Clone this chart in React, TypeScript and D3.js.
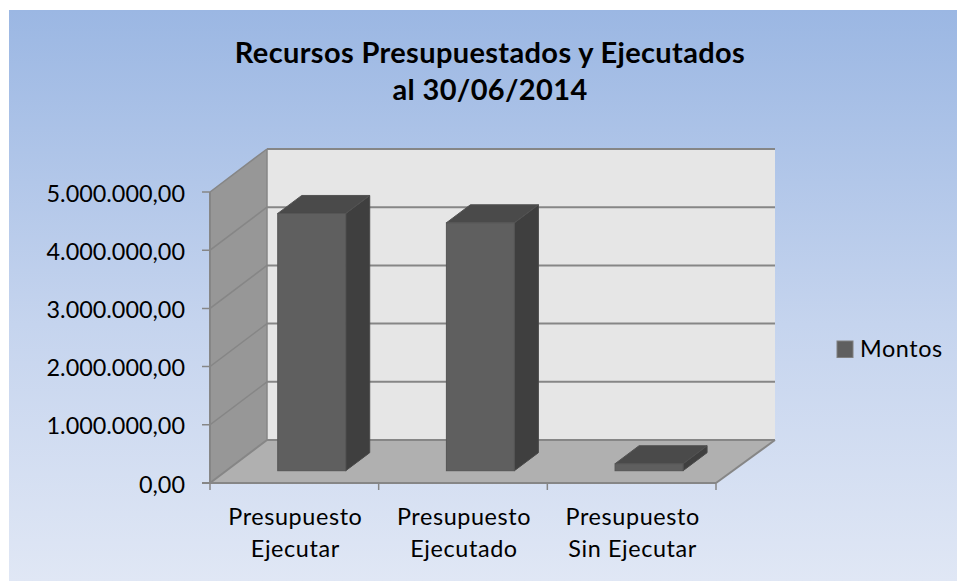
import React from "react";
import * as d3 from "d3";

const categories = ["Presupuesto Ejecutar", "Presupuesto Ejecutado", "Presupuesto Sin Ejecutar"];
const categoryLines = [["Presupuesto", "Ejecutar"], ["Presupuesto", "Ejecutado"], ["Presupuesto", "Sin Ejecutar"]];
const montos = [4420000, 4260000, 120000];
const yTicks = [0, 1000000, 2000000, 3000000, 4000000, 5000000];
const titleLines = ["Recursos Presupuestados y Ejecutados", "al 30/06/2014"];
const legendLabel = "Montos";

const FONT = "Lato, Carlito, Calibri, sans-serif";
const fmt = (v: number) => d3.format(",.2f")(v).replace(/,/g, "#").replace(".", ",").replace(/#/g, ".");

export default function App() {
  const x = d3.scaleBand<string>().domain(categories).range([210, 716]).paddingInner(0).paddingOuter(0);
  const y = d3.scaleLinear().domain([0, 5000000]).range([483, 192]);
  const dx = 57, dy = 43;
  const bdx = 24, bdy = 18;
  const barW = 68;
  const bottomY = 470.7;
  const baseShift = 17.4;
  const line = "#868686";
  const p = (pts: number[][]) => pts.map((q) => q.join(",")).join(" ");
  const y0 = y(0), yTop = y(5000000), xL = 210, xR = 716;
  return (
    <svg width={957} height={581} style={{ position: "fixed", left: 0, top: 0, display: "block", fontFamily: FONT }}>
      <defs>
        <linearGradient id="bg" x1="0" y1="0" x2="0" y2="1">
          <stop offset="0" stopColor="#9bb7e3" />
          <stop offset="0.55" stopColor="#c5d4ee" />
          <stop offset="1" stopColor="#e0e7f5" />
        </linearGradient>
      </defs>
      <rect x={9} y={10} width={948} height={571} fill="url(#bg)" />
      <polygon points={p([[xL + dx, yTop - dy], [xR + dx + 2, yTop - dy], [xR + dx + 2, y0 - dy], [xL + dx, y0 - dy]])} fill="#e6e6e6" />
      <polygon points={p([[xL, yTop], [xL + dx, yTop - dy], [xL + dx, y0 - dy], [xL, y0]])} fill="#979797" />
      <polygon points={p([[xL, y0], [xL + dx, y0 - dy], [xR + dx + 2, y0 - dy], [xR, y0]])} fill="#b0b0b0" />
      {yTicks.map((t) => (
        <g key={t}>
          {t > 0 && <line x1={xL + dx} x2={xR + dx + 2} y1={y(t) - dy} y2={y(t) - dy} stroke={line} strokeWidth={2} />}
          <polyline points={p([[xL - 8, y(t)], [xL, y(t)], [xL + dx, y(t) - dy]])} fill="none" stroke={line} strokeWidth={t === 0 ? 2 : 1.5} />
          <text x={185} y={y(t) + 9.5} textAnchor="end" fontSize={23.4} fill="#000">{fmt(t)}</text>
        </g>
      ))}
      <line x1={xL + dx} x2={xR + dx + 2} y1={y0 - dy} y2={y0 - dy} stroke={line} strokeWidth={2} />
      <line x1={xL} x2={xR} y1={y0} y2={y0} stroke={line} strokeWidth={2} />
      <line x1={xR} x2={xR + dx + 2} y1={y0} y2={y0 - dy} stroke={line} strokeWidth={2} />
      <line x1={xL} x2={xL} y1={yTop} y2={y0} stroke={line} strokeWidth={2} />
      <line x1={xL + dx} x2={xL + dx} y1={yTop - dy} y2={y0 - dy} stroke={line} strokeWidth={1.5} />
      {[...categories.map((c) => x(c)!), xR].map((tx, i) => (
        <line key={i} x1={tx} x2={tx} y1={y0} y2={y0 + 7} stroke={line} strokeWidth={1.5} />
      ))}
      {categories.map((c, i) => {
        const bx = x(c)! + baseShift + (x.bandwidth() - barW) / 2;
        const top = bottomY - (y0 - y(montos[i]));
        return (
          <g key={c}>
            <polygon points={p([[bx + barW, top], [bx + barW + bdx, top - bdy], [bx + barW + bdx, bottomY - bdy], [bx + barW, bottomY]])} fill="#3f3f3f" stroke="#4a4a4a" strokeWidth={1} />
            <polygon points={p([[bx, top], [bx + bdx, top - bdy], [bx + barW + bdx, top - bdy], [bx + barW, top]])} fill="#4a4a4a" stroke="#525252" strokeWidth={1} />
            <rect x={bx} y={top} width={barW} height={bottomY - top} fill="#5f5f5f" stroke="#555555" strokeWidth={1} />
            {categoryLines[i].map((l, k) => (
              <text key={k} x={x(c)! + x.bandwidth() / 2 + 1} y={524.5 + k * 32.5} textAnchor="middle" fontSize={23.4} letterSpacing={0.6} fill="#000">{l}</text>
            ))}
          </g>
        );
      })}
      <rect x={837} y={341} width={16} height={16.5} fill="#5f5f5f" stroke="#808080" strokeWidth={1} />
      <text x={860} y={357} fontSize={23.4} letterSpacing={0.6} fill="#000">{legendLabel}</text>
      {titleLines.map((l, i) => (
        <text key={l} x={490} y={62.5 + i * 37.5} textAnchor="middle" fontSize={29} letterSpacing={0.35} fontWeight={700} fill="#000">{l}</text>
      ))}
    </svg>
  );
}
